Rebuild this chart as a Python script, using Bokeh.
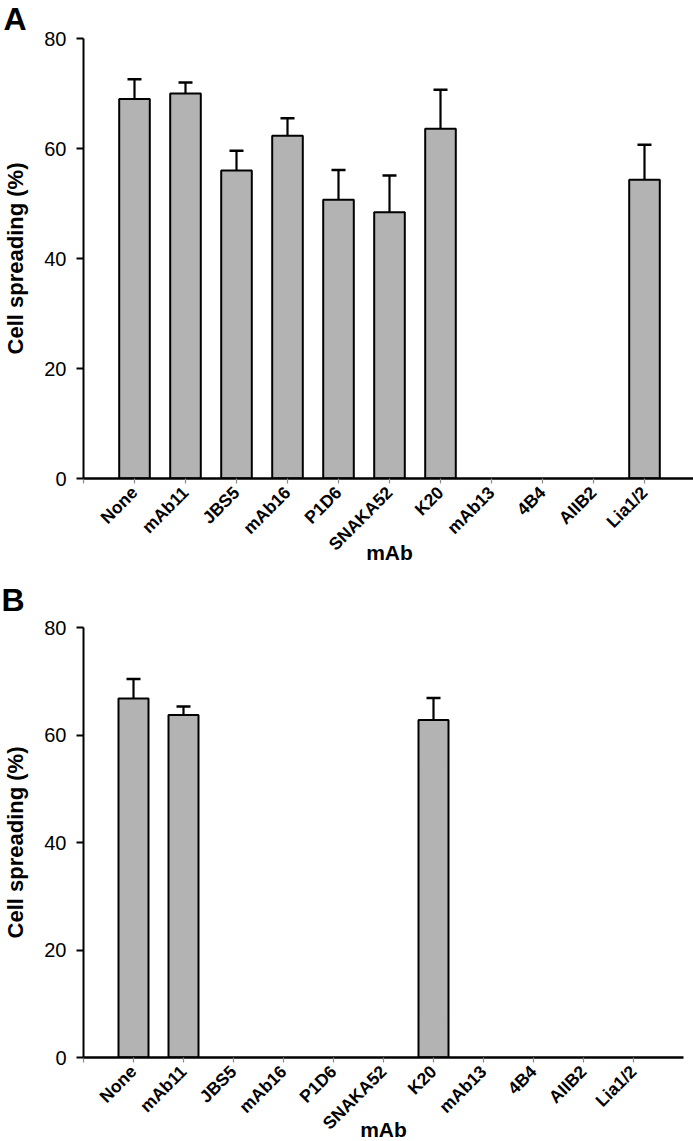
import math
from bokeh.plotting import figure
from bokeh.models import Range1d, FixedTicker, ColumnDataSource, Whisker, TeeHead
from bokeh.layouts import column
from bokeh.embed import file_html
from bokeh.resources import INLINE

categories = ["None", "mAb11", "JBS5", "mAb16", "P1D6", "SNAKA52", "K20",
              "mAb13", "4B4", "AIIB2", "Lia1/2"]
spread_a = [69.0, 70.0, 56.0, 62.3, 50.7, 48.4, 63.6, 0, 0, 0, 54.3]
err_a = [3.6, 2.0, 3.6, 3.2, 5.4, 6.7, 7.1, 0, 0, 0, 6.4]
spread_b = [66.8, 63.7, 0, 0, 0, 0, 62.8, 0, 0, 0, 0]
err_b = [3.6, 1.6, 0, 0, 0, 0, 4.1, 0, 0, 0, 0]
y_ticks = [0, 20, 40, 60, 80]
x_label = "mAb"
y_label = "Cell spreading (%)"

FONT = "Liberation Sans"


def make_panel(letter, vals, errs, width, height, left, right, top, bottom, fw, fh,
               xl_standoff, title_valign, title_standoff):
    n = len(categories) + 1
    p = figure(width=width, height=height, output_backend="svg", toolbar_location=None,
               x_range=Range1d(0, n), y_range=Range1d(0, 80),
               min_border_left=left, min_border_right=right,
               min_border_top=top, min_border_bottom=bottom,
               frame_width=fw, frame_height=fh, title=letter)
    p.outline_line_color = None
    p.grid.visible = False

    p.title.text_font = FONT
    p.title.text_font_style = "bold"
    p.title.text_font_size = "32px"
    p.title.text_color = "black"
    p.title.align = "left"
    p.title.vertical_align = title_valign
    p.title.offset = -left
    p.title.standoff = title_standoff

    xs = [i + 1 for i, v in enumerate(vals) if v > 0]
    tops = [v for v in vals if v > 0]
    ups = [v + e for v, e in zip(vals, errs) if v > 0]
    src = ColumnDataSource(dict(x=xs, top=tops, upper=ups))
    p.vbar(x="x", top="top", bottom=0, width=0.6, source=src,
           fill_color="#b3b3b3", line_color="black", line_width=2)
    w = Whisker(source=src, base="x", upper="upper", lower="top", dimension="height",
                line_color="black", line_width=2.2,
                upper_head=TeeHead(size=14, line_width=2.5, line_color="black"),
                lower_head=None)
    p.add_layout(w)

    xa = p.xaxis[0]
    xa.ticker = FixedTicker(ticks=list(range(0, n)))
    ov = {0: ""}
    for i, c in enumerate(categories):
        ov[i + 1] = c
    xa.major_label_overrides = ov
    xa.major_label_orientation = math.pi / 4
    xa.major_label_text_font = FONT
    xa.major_label_text_font_style = "bold"
    xa.major_label_text_font_size = "17.5px"
    xa.major_label_text_color = "black"
    xa.major_label_standoff = 6
    xa.axis_line_width = 2.6
    xa.axis_line_color = "black"
    xa.major_tick_line_color = "#8c8c8c"
    xa.major_tick_line_width = 1.2
    xa.major_tick_out = 5
    xa.major_tick_in = 0
    xa.minor_tick_line_color = None
    xa.axis_label = x_label
    xa.axis_label_text_font = FONT
    xa.axis_label_text_font_style = "bold"
    xa.axis_label_text_font_size = "21px"
    xa.axis_label_text_color = "black"
    xa.axis_label_standoff = xl_standoff

    ya = p.yaxis[0]
    ya.ticker = FixedTicker(ticks=y_ticks)
    ya.major_label_text_font = FONT
    ya.major_label_text_font_size = "20px"
    ya.major_label_text_color = "black"
    ya.major_label_standoff = 10
    ya.axis_line_width = 2
    ya.axis_line_color = "black"
    ya.major_tick_line_width = 2
    ya.major_tick_line_color = "black"
    ya.major_tick_out = 7
    ya.major_tick_in = 0
    ya.minor_tick_line_color = None
    ya.axis_label = y_label
    ya.axis_label_text_font = FONT
    ya.axis_label_text_font_style = "bold"
    ya.axis_label_text_font_size = "22px"
    ya.axis_label_text_color = "black"
    ya.axis_label_standoff = 13
    return p


pA = make_panel("A", spread_a, err_a, 693, 568, 80, 1, 38, 90, 612, 440, -23, "top", -1)
pB = make_panel("B", spread_b, err_b, 693, 573, 82, 11, 59, 84, 600, 430, -25, "bottom", 20)

layout = column(pA, pB)
open("out.html", "w").write(file_html(layout, INLINE))
